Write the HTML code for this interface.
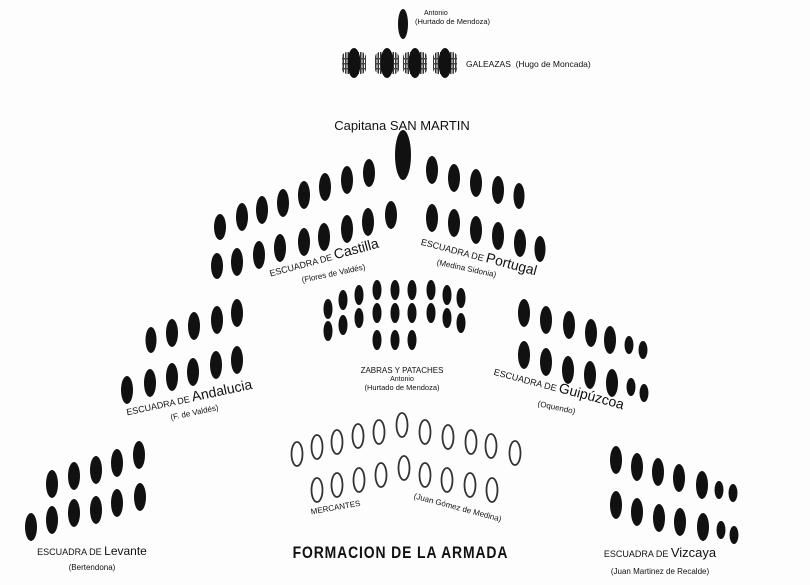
<!DOCTYPE html>
<html><head><meta charset="utf-8"><style>
html,body{margin:0;padding:0;background:#fff;}
svg{display:block;}
text{font-family:"Liberation Sans",sans-serif;fill:#111;}
.s{fill:#111;}
.m{fill:#fff;stroke:#333;stroke-width:1.8;}
</style></head><body>
<svg width="810" height="585" viewBox="0 0 810 585" xmlns="http://www.w3.org/2000/svg">
<rect width="810" height="585" fill="#fdfdfd"/>
<defs>
<pattern id="oars" width="2.5" height="22" patternUnits="userSpaceOnUse"><rect width="1.5" height="22" fill="#333"/></pattern>
</defs>
<!-- Antonio top -->
<ellipse class="s" cx="403" cy="24" rx="5" ry="15"/>
<text x="424" y="15" font-size="7">Antonio</text>
<text x="415" y="24" font-size="7.5">(Hurtado de Mendoza)</text>
<!-- Galeazas -->
<g>
<rect x="342" y="52" width="24" height="22" fill="url(#oars)" rx="5"/><rect x="342" y="58" width="24" height="1.5" fill="#444"/><rect x="342" y="63" width="24" height="1.5" fill="#444"/><rect x="342" y="68" width="24" height="1.5" fill="#444"/><ellipse class="s" cx="354" cy="63" rx="6.5" ry="15"/>
<rect x="375" y="52" width="24" height="22" fill="url(#oars)" rx="5"/><rect x="375" y="58" width="24" height="1.5" fill="#444"/><rect x="375" y="63" width="24" height="1.5" fill="#444"/><rect x="375" y="68" width="24" height="1.5" fill="#444"/><ellipse class="s" cx="387" cy="63" rx="6.5" ry="15"/>
<rect x="403" y="52" width="24" height="22" fill="url(#oars)" rx="5"/><rect x="403" y="58" width="24" height="1.5" fill="#444"/><rect x="403" y="63" width="24" height="1.5" fill="#444"/><rect x="403" y="68" width="24" height="1.5" fill="#444"/><ellipse class="s" cx="415" cy="63" rx="6.5" ry="15"/>
<rect x="433" y="52" width="24" height="22" fill="url(#oars)" rx="5"/><rect x="433" y="58" width="24" height="1.5" fill="#444"/><rect x="433" y="63" width="24" height="1.5" fill="#444"/><rect x="433" y="68" width="24" height="1.5" fill="#444"/><ellipse class="s" cx="445" cy="63" rx="6.5" ry="15"/>
</g>
<text x="466" y="67" font-size="8.5">GALEAZAS&#160;&#160;(Hugo de Moncada)</text>
<!-- Capitana -->
<text x="402" y="130" font-size="13" text-anchor="middle">Capitana SAN MARTIN</text>
<ellipse class="s" cx="403" cy="155" rx="8" ry="25"/>
<!-- Castilla -->
<g class="s">
<ellipse cx="369" cy="173" rx="6" ry="14"/><ellipse cx="347" cy="180" rx="6" ry="14"/><ellipse cx="325" cy="187" rx="6" ry="14"/><ellipse cx="304" cy="195" rx="6" ry="14"/><ellipse cx="283" cy="203" rx="6" ry="14"/><ellipse cx="262" cy="210" rx="6" ry="14"/><ellipse cx="242" cy="217" rx="6" ry="14"/><ellipse cx="220" cy="227" rx="6" ry="13"/>
<ellipse cx="391" cy="215" rx="6" ry="14"/><ellipse cx="368" cy="222" rx="6" ry="14"/><ellipse cx="347" cy="229" rx="6" ry="14"/><ellipse cx="324" cy="237" rx="6" ry="14"/><ellipse cx="304" cy="242" rx="6" ry="14"/><ellipse cx="280" cy="248" rx="6" ry="14"/><ellipse cx="259" cy="255" rx="6" ry="14"/><ellipse cx="237" cy="262" rx="6" ry="14"/><ellipse cx="217" cy="266" rx="6" ry="13"/>
</g>
<text transform="translate(325,262) rotate(-15)" font-size="9" text-anchor="middle">ESCUADRA DE <tspan font-size="14">Castilla</tspan></text>
<text transform="translate(334,276) rotate(-12)" font-size="8" text-anchor="middle">(Flores de Valdés)</text>
<!-- Portugal -->
<g class="s">
<ellipse cx="432" cy="170" rx="6" ry="14"/><ellipse cx="454" cy="178" rx="6" ry="14"/><ellipse cx="476" cy="183" rx="6" ry="14"/><ellipse cx="498" cy="190" rx="6" ry="14"/><ellipse cx="519" cy="196" rx="5.5" ry="13"/>
<ellipse cx="432" cy="218" rx="6" ry="14"/><ellipse cx="454" cy="223" rx="6" ry="14"/><ellipse cx="476" cy="230" rx="6" ry="14"/><ellipse cx="498" cy="236" rx="6" ry="14"/><ellipse cx="520" cy="243" rx="6" ry="14"/><ellipse cx="540" cy="249" rx="5.5" ry="13"/>
</g>
<text transform="translate(478,260) rotate(15)" font-size="9" text-anchor="middle">ESCUADRA DE <tspan font-size="14">Portugal</tspan></text>
<text transform="translate(466,271) rotate(12)" font-size="8" text-anchor="middle">(Medina Sidonia)</text>
<!-- Zabras -->
<g class="s">
<ellipse cx="328" cy="309" rx="4.5" ry="10"/><ellipse cx="343" cy="300" rx="4.5" ry="10"/><ellipse cx="359" cy="295" rx="4.5" ry="10"/><ellipse cx="377" cy="290" rx="4.5" ry="10"/><ellipse cx="395" cy="290" rx="4.5" ry="10"/><ellipse cx="412" cy="290" rx="4.5" ry="10"/><ellipse cx="431" cy="290" rx="4.5" ry="10"/><ellipse cx="447" cy="295" rx="4.5" ry="10"/><ellipse cx="461" cy="298" rx="4.5" ry="10"/>
<ellipse cx="328" cy="331" rx="4.5" ry="10"/><ellipse cx="343" cy="325" rx="4.5" ry="10"/><ellipse cx="359" cy="318" rx="4.5" ry="10"/><ellipse cx="377" cy="313" rx="4.5" ry="10"/><ellipse cx="395" cy="313" rx="4.5" ry="10"/><ellipse cx="412" cy="313" rx="4.5" ry="10"/><ellipse cx="431" cy="313" rx="4.5" ry="10"/><ellipse cx="447" cy="318" rx="4.5" ry="10"/><ellipse cx="461" cy="323" rx="4.5" ry="10"/>
<ellipse cx="377" cy="340" rx="4.5" ry="10"/><ellipse cx="395" cy="340" rx="4.5" ry="10"/><ellipse cx="412" cy="340" rx="4.5" ry="10"/>
</g>
<text x="402" y="373" font-size="8" text-anchor="middle">ZABRAS Y PATACHES</text>
<text x="402" y="381" font-size="7" text-anchor="middle">Antonio</text>
<text x="402" y="390" font-size="7.5" text-anchor="middle">(Hurtado de Mendoza)</text>
<!-- Mercantes -->
<g class="m">
<ellipse cx="297" cy="454" rx="5.5" ry="12"/><ellipse cx="317" cy="447" rx="5.5" ry="12"/><ellipse cx="337" cy="442" rx="5.5" ry="12"/><ellipse cx="358" cy="436" rx="5.5" ry="12"/><ellipse cx="379" cy="432" rx="5.5" ry="12"/><ellipse cx="402" cy="425" rx="5.5" ry="12"/><ellipse cx="425" cy="432" rx="5.5" ry="12"/><ellipse cx="448" cy="437" rx="5.5" ry="12"/><ellipse cx="471" cy="442" rx="5.5" ry="12"/><ellipse cx="491" cy="446" rx="5.5" ry="12"/><ellipse cx="515" cy="453" rx="5.5" ry="12"/>
<ellipse cx="317" cy="490" rx="5.5" ry="12"/><ellipse cx="337" cy="485" rx="5.5" ry="12"/><ellipse cx="359" cy="480" rx="5.5" ry="12"/><ellipse cx="381" cy="475" rx="5.5" ry="12"/><ellipse cx="404" cy="468" rx="5.5" ry="12"/><ellipse cx="425" cy="475" rx="5.5" ry="12"/><ellipse cx="447" cy="480" rx="5.5" ry="12"/><ellipse cx="470" cy="485" rx="5.5" ry="12"/><ellipse cx="492" cy="490" rx="5.5" ry="12"/>
</g>
<text transform="translate(336,510) rotate(-10)" font-size="8" text-anchor="middle">MERCANTES</text>
<text transform="translate(457,510) rotate(15)" font-size="8" text-anchor="middle">(Juan Gómez de Medina)</text>
<!-- Andalucia -->
<g class="s">
<ellipse cx="151" cy="340" rx="5.5" ry="13"/><ellipse cx="172" cy="333" rx="6" ry="14"/><ellipse cx="194" cy="326" rx="6" ry="14"/><ellipse cx="217" cy="320" rx="6" ry="14"/><ellipse cx="237" cy="313" rx="6" ry="14"/>
<ellipse cx="127" cy="390" rx="6" ry="14"/><ellipse cx="150" cy="383" rx="6" ry="14"/><ellipse cx="172" cy="377" rx="6" ry="14"/><ellipse cx="193" cy="372" rx="6" ry="14"/><ellipse cx="216" cy="365" rx="6" ry="14"/><ellipse cx="237" cy="360" rx="6" ry="14"/>
</g>
<text transform="translate(190,402) rotate(-12)" font-size="9" text-anchor="middle">ESCUADRA DE <tspan font-size="14">Andalucia</tspan></text>
<text transform="translate(195,415) rotate(-12)" font-size="8" text-anchor="middle">(F. de Valdés)</text>
<!-- Levante -->
<g class="s">
<ellipse cx="52" cy="484" rx="6" ry="14"/><ellipse cx="74" cy="476" rx="6" ry="14"/><ellipse cx="96" cy="470" rx="6" ry="14"/><ellipse cx="117" cy="463" rx="6" ry="14"/><ellipse cx="139" cy="455" rx="6" ry="14"/>
<ellipse cx="31" cy="527" rx="6" ry="14"/><ellipse cx="52" cy="520" rx="6" ry="14"/><ellipse cx="74" cy="513" rx="6" ry="14"/><ellipse cx="96" cy="510" rx="6" ry="14"/><ellipse cx="117" cy="503" rx="6" ry="14"/><ellipse cx="140" cy="497" rx="6" ry="14"/>
</g>
<text x="92" y="555" font-size="9" text-anchor="middle">ESCUADRA DE <tspan font-size="12">Levante</tspan></text>
<text x="92" y="570" font-size="8" text-anchor="middle">(Bertendona)</text>
<!-- Guipuzcoa -->
<g class="s">
<ellipse cx="524" cy="313" rx="6" ry="14"/><ellipse cx="546" cy="320" rx="6" ry="14"/><ellipse cx="569" cy="325" rx="6" ry="14"/><ellipse cx="591" cy="333" rx="6" ry="14"/><ellipse cx="610" cy="340" rx="6" ry="14"/><ellipse cx="629" cy="345" rx="4.5" ry="9"/><ellipse cx="643" cy="350" rx="4.5" ry="9"/>
<ellipse cx="524" cy="355" rx="6" ry="14"/><ellipse cx="546" cy="362" rx="6" ry="14"/><ellipse cx="568" cy="370" rx="6" ry="14"/><ellipse cx="590" cy="375" rx="6" ry="14"/><ellipse cx="612" cy="383" rx="6" ry="14"/><ellipse cx="631" cy="387" rx="4.5" ry="9"/><ellipse cx="644" cy="393" rx="4.5" ry="9"/>
</g>
<text transform="translate(558,392) rotate(15)" font-size="9" text-anchor="middle">ESCUADRA DE <tspan font-size="14">Guipúzcoa</tspan></text>
<text transform="translate(556,410) rotate(12)" font-size="8" text-anchor="middle">(Oquendo)</text>
<!-- Vizcaya -->
<g class="s">
<ellipse cx="616" cy="460" rx="6" ry="14"/><ellipse cx="637" cy="467" rx="6" ry="14"/><ellipse cx="658" cy="472" rx="6" ry="14"/><ellipse cx="679" cy="478" rx="6" ry="14"/><ellipse cx="702" cy="485" rx="6" ry="14"/><ellipse cx="719" cy="490" rx="4.5" ry="9"/><ellipse cx="733" cy="493" rx="4.5" ry="9"/>
<ellipse cx="616" cy="505" rx="6" ry="14"/><ellipse cx="637" cy="512" rx="6" ry="14"/><ellipse cx="659" cy="518" rx="6" ry="14"/><ellipse cx="680" cy="522" rx="6" ry="14"/><ellipse cx="703" cy="527" rx="6" ry="14"/><ellipse cx="721" cy="530" rx="4.5" ry="9"/><ellipse cx="734" cy="535" rx="4.5" ry="9"/>
</g>
<text x="660" y="557" font-size="9" text-anchor="middle">ESCUADRA DE <tspan font-size="13">Vizcaya</tspan></text>
<text x="660" y="574" font-size="8" text-anchor="middle">(Juan Martinez de Recalde)</text>
<!-- Title -->
<text x="400" y="558" font-size="17" font-weight="bold" text-anchor="middle" transform="translate(400,0) scale(0.82,1) translate(-400,0)" textLength="262">FORMACION DE LA ARMADA</text>
</svg>
</body></html>
